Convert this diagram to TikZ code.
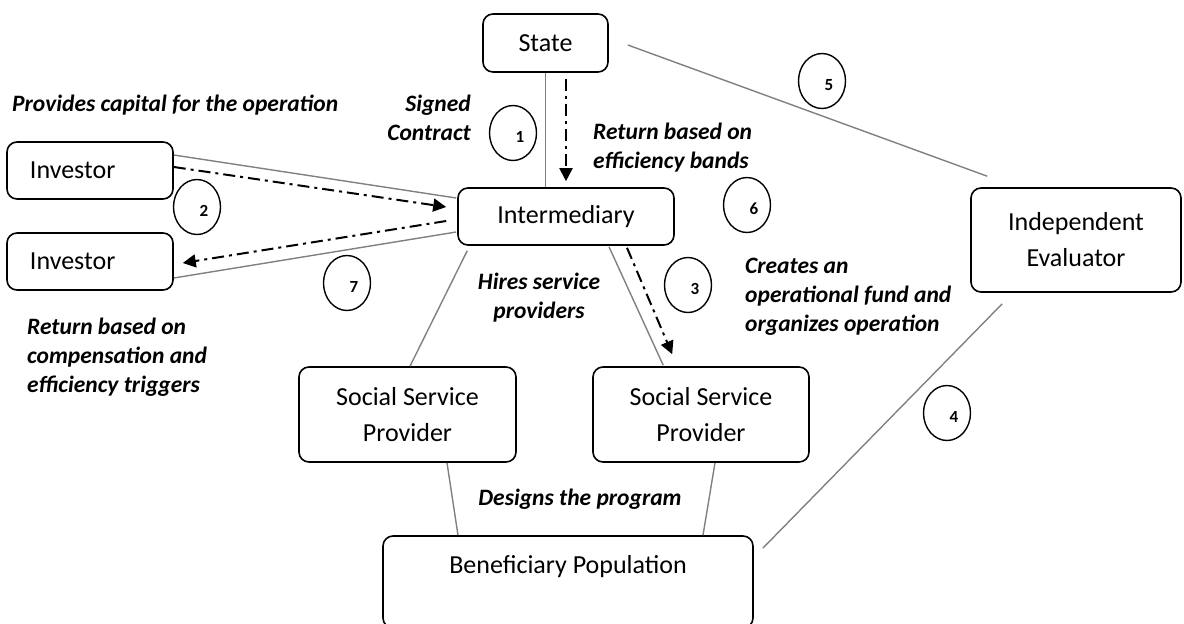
\documentclass[tikz,border=0pt]{standalone}
\usepackage{fontspec}
\setmainfont{Carlito}
\usepackage{tikz}
\usetikzlibrary{arrows.meta, shapes.geometric, calc}

\begin{document}
\begin{tikzpicture}[
  x=1pt, y=-1pt,
  box/.style={rectangle, draw=black, rounded corners=10pt, line width=1.6pt,
             align=center, inner sep=4pt, font=\fontsize{26}{36}\selectfont},
  investorbox/.style={box, minimum height=57pt, text width=120pt,
             align=left, inner xsep=23pt},
  link/.style={draw=black!50, line width=1.4pt},
  flow/.style={line width=2pt, dash pattern=on 12pt off 5pt on 3pt off 5pt,
             -{Triangle[length=13pt, width=13pt]}},
  note/.style={font=\fontsize{23.5}{29}\selectfont\bfseries\itshape, inner sep=0pt},
  numcirc/.style={ellipse, draw, line width=1.4pt, minimum width=47pt,
             minimum height=55pt, inner sep=0pt,
             label={[font=\fontsize{17}{17}\selectfont\bfseries,
                     xshift=7pt, yshift=-4pt]center:#1}}
]
\useasboundingbox (0,0) rectangle (1184,624);

% actors
\node[box, minimum width=125pt, minimum height=58pt] (state) at (545.5,43) {State};
\node[box, minimum width=216pt, minimum height=57pt] (inter) at (566,216.5) {Intermediary};
\node[investorbox] (inv1) at (90,170.5) {Investor};
\node[investorbox] (inv2) at (90,261.5) {Investor};
\node[box, minimum width=210pt, minimum height=104pt] (eval) at (1076,240) {Independent\\Evaluator};
\node[box, minimum width=217pt, minimum height=95pt] (sspl) at (407.5,414.5) {Social Service\\Provider};
\node[box, minimum width=216pt, minimum height=95pt] (sspr) at (701,414.5) {Social Service\\Provider};
\node[box, minimum width=370pt, minimum height=92pt] (benef) at (568,582) {Beneficiary Population\\\mbox{}};

% relations
\draw[link] (state.south) -- (state.south |- inter.north);
\draw[flow] ($(inter.north |- state.south)+(0,6)$) -- ($(inter.north)+(0,-6)$);
\draw[link] ($(state.east)+(19,2)$) -- ($(eval.north west)+(17,-11)$);
\draw[link] ($(inv1.east)+(0,-15.5)$) -- ($(inter.west)+(-1,-18.5)$);
\draw[flow] ($(inv1.east)+(0,-3.5)$) -- ($(inter.west)+(-11,-9.5)$);
\draw[flow] ($(inter.west)+(-11,4.5)$) -- ($(inv2.east)+(9,1.5)$);
\draw[link] ($(inv2.east)+(0,16.5)$) -- ($(inter.west)+(-1,15.5)$);
\draw[link] ($(inter.south west)+(10,5)$) -- ($(sspl.north)+(2.5,0)$);
\draw[link] ($(inter.south)+(43,1)$) -- ($(sspr.north west)+(71,-1)$);
\draw[flow] ($(inter.south)+(61,2)$) -- ($(sspr.north west)+(80,-12)$);
\draw[link] ($(sspl.south)+(39.5,0)$) -- ($(benef.north)+(-110,0)$);
\draw[link] ($(sspr.south)+(14,0)$) -- ($(benef.north)+(135,0)$);
\draw[link] ($(eval.south west)+(32,11)$) -- ($(benef.north east)+(9,13)$);

% step numbers
\node[numcirc=1] (c1) at (513,133) {};
\node[numcirc=2] (c2) at (197,207) {};
\node[numcirc=3] (c3) at (688,285) {};
\node[numcirc=4] (c4) at (947,413) {};
\node[numcirc=5] (c5) at (822,81) {};
\node[numcirc=6] (c6) at (747,205) {};
\node[numcirc=7] (c7) at (347,283) {};

% notes
\node[note, anchor=west] (capital) at (12,105) {Provides capital for the operation};
\node[note, anchor=east, align=right] (contract) at (471,118) {Signed\\Contract};
\node[note, anchor=west, align=left] (bands) at (593,148) {Return based on\\efficiency bands};
\node[note, align=center] (hires) at (539,297.5) {Hires service\\providers};
\node[note, anchor=west, align=left] (fund) at (745,297) {Creates an\\operational fund and\\organizes operation};
\node[note, anchor=west, align=left] (triggers) at (27,357) {Return based on\\compensation and\\efficiency triggers};
\node[note] (designs) at (580,499) {Designs the program};

\end{tikzpicture}
\end{document}
